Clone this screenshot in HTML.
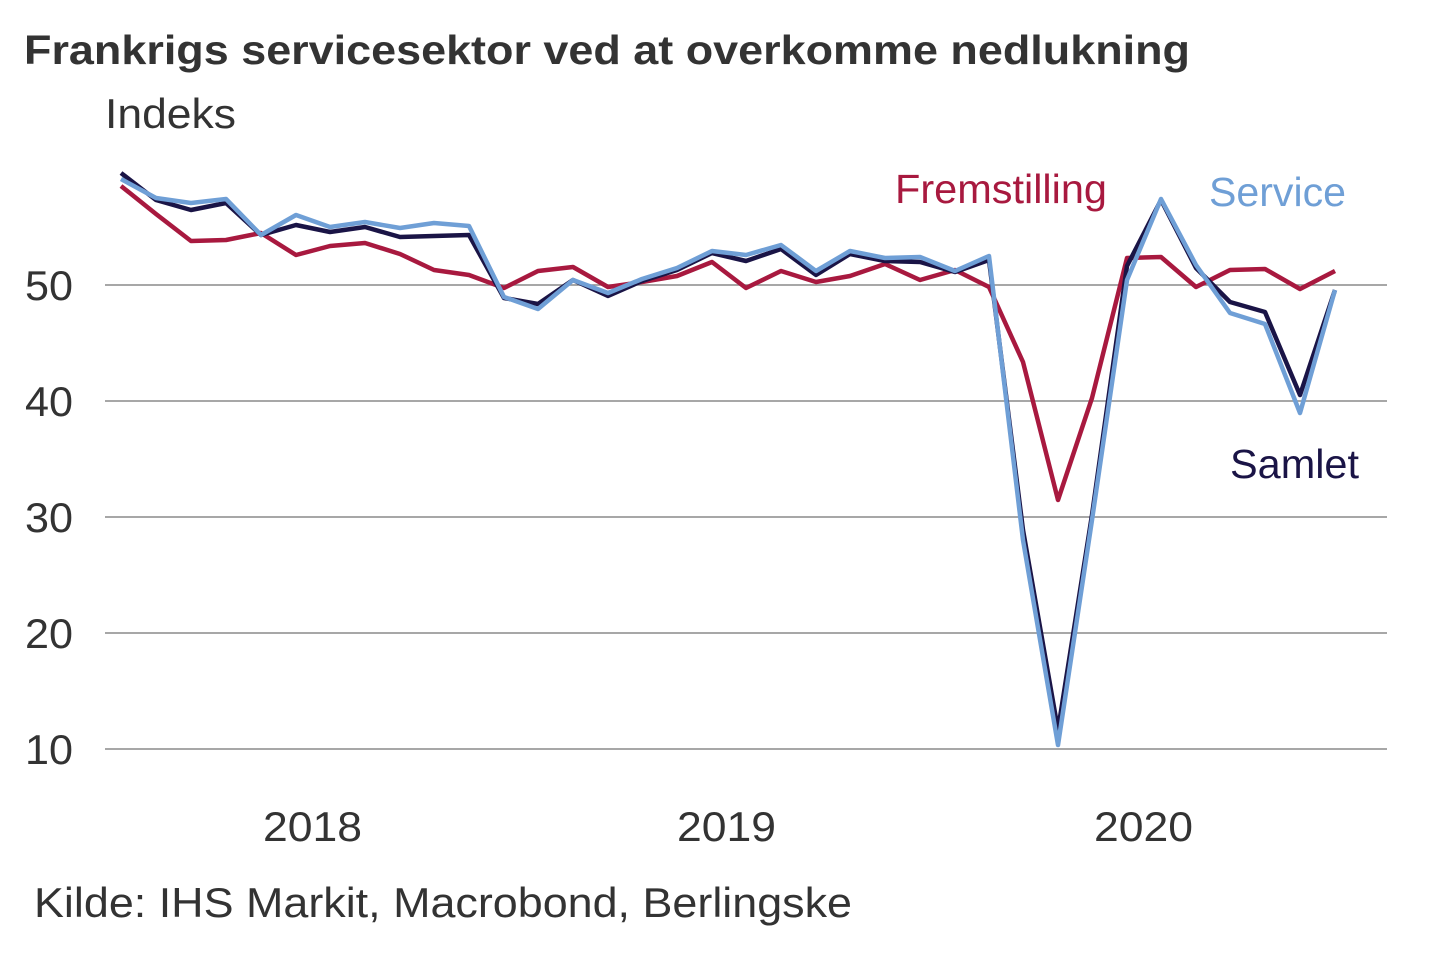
<!DOCTYPE html>
<html><head><meta charset="utf-8"><style>
html,body{margin:0;padding:0;background:#fff;}
svg{display:block;font-family:"Liberation Sans",Arial,sans-serif;}
</style></head><body>
<svg width="1440" height="960" viewBox="0 0 1440 960">
<text x="24" y="64" font-size="41" font-weight="bold" fill="#333" textLength="1166" lengthAdjust="spacingAndGlyphs">Frankrigs servicesektor ved at overkomme nedlukning</text>
<text x="105" y="128" font-size="42" fill="#333" textLength="131" lengthAdjust="spacingAndGlyphs">Indeks</text>
<g stroke="#8a8a8a" stroke-width="1.5">
<line x1="105" y1="285" x2="1387" y2="285"/>
<line x1="105" y1="401" x2="1387" y2="401"/>
<line x1="105" y1="517" x2="1387" y2="517"/>
<line x1="105" y1="633" x2="1387" y2="633"/>
<line x1="105" y1="749" x2="1387" y2="749"/>
</g>
<g font-size="42" fill="#333">
<text x="25" y="300" textLength="48" lengthAdjust="spacingAndGlyphs">50</text>
<text x="25" y="416" textLength="48" lengthAdjust="spacingAndGlyphs">40</text>
<text x="25" y="532" textLength="48" lengthAdjust="spacingAndGlyphs">30</text>
<text x="25" y="648" textLength="48" lengthAdjust="spacingAndGlyphs">20</text>
<text x="25" y="764" textLength="48" lengthAdjust="spacingAndGlyphs">10</text>
</g>
<g font-size="42" fill="#333">
<text x="263" y="841" textLength="99" lengthAdjust="spacingAndGlyphs">2018</text>
<text x="677" y="841" textLength="99" lengthAdjust="spacingAndGlyphs">2019</text>
<text x="1094" y="841" textLength="99" lengthAdjust="spacingAndGlyphs">2020</text>
</g>
<polyline fill="none" stroke="#a8193f" stroke-width="4.5" stroke-linejoin="round" points="121,186 156,214 191,241 226,240 261,233 296,255 330,246 365,243 400,254 434,270 469,275 504,288 538,271 573,267 608,287 642,282 677,276 712,262 746,288 781,271 816,282 850,276 885,264 920,280 955,270 989,287 1023,362 1058,500 1092,398 1127,258 1161,257 1196,287 1230,270 1265,269 1300,289 1335,271"/>
<polyline fill="none" stroke="#1a1446" stroke-width="4.5" stroke-linejoin="round" points="121,173 156,200 191,210 226,203 261,235 296,225 330,232 365,227 400,237 434,236 469,235 504,298 538,304 573,280 608,296 642,281 677,270 712,253 746,261 781,249 816,275 850,254 885,261 920,262 955,272 989,260 1023,530 1058,730 1092,515 1127,266 1161,200 1196,268 1230,302 1265,312 1300,395 1335,290"/>
<polyline fill="none" stroke="#6f9fd6" stroke-width="4.5" stroke-linejoin="round" points="121,179 156,198 191,203 226,199 261,235 296,215 330,227 365,222 400,228 434,223 469,226 504,297 538,309 573,280 608,293 642,279 677,268 712,251 746,255 781,245 816,271 850,251 885,258 920,257 955,271 989,256 1023,540 1058,745 1092,520 1127,280 1161,199 1196,265 1230,313 1265,324 1300,413 1335,290"/>
<text x="895" y="203" font-size="41" fill="#a8193f" textLength="212" lengthAdjust="spacingAndGlyphs">Fremstilling</text>
<text x="1209" y="206" font-size="41" fill="#6f9fd6" textLength="137" lengthAdjust="spacingAndGlyphs">Service</text>
<text x="1230" y="478" font-size="41" fill="#1a1446" textLength="129" lengthAdjust="spacingAndGlyphs">Samlet</text>
<text x="34" y="917" font-size="42" fill="#333" textLength="818" lengthAdjust="spacingAndGlyphs">Kilde: IHS Markit, Macrobond, Berlingske</text>
</svg>
</body></html>
